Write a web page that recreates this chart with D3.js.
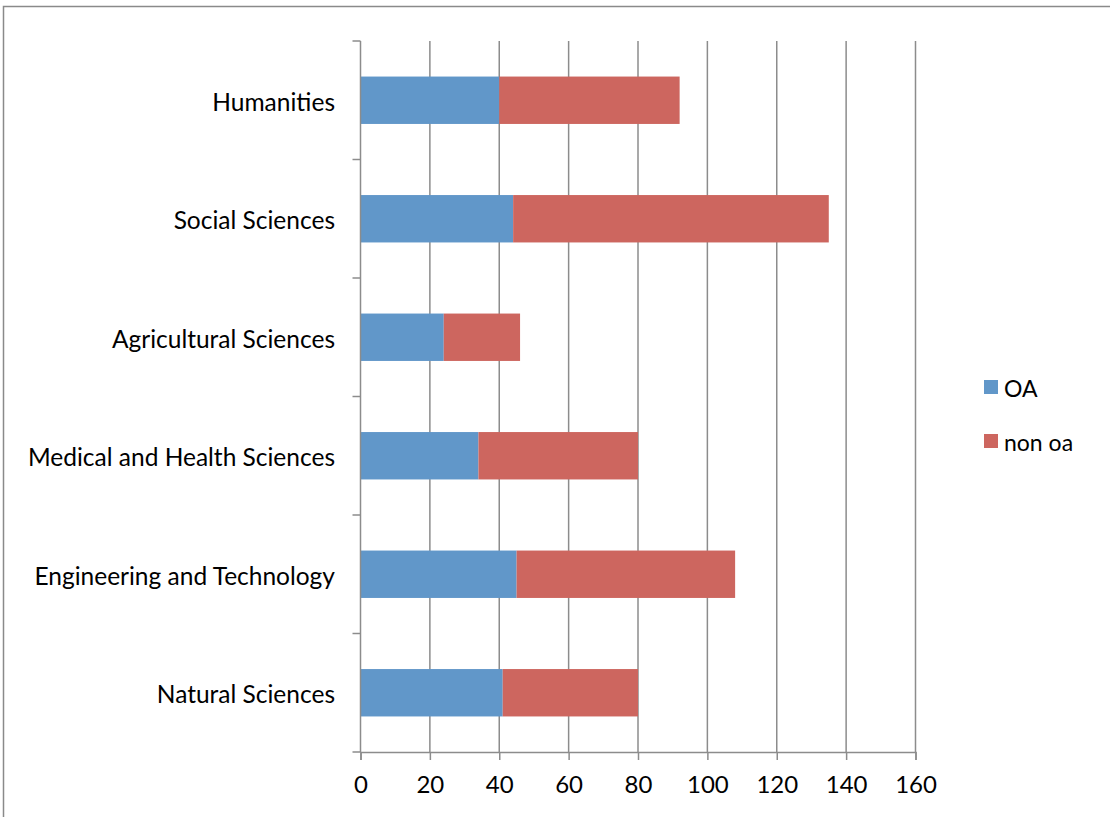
<!DOCTYPE html>
<html>
<head>
<meta charset="utf-8">
<script src="https://cdn.jsdelivr.net/npm/d3@7"></script>
<style>
  body { margin: 0; background: #fff; }
  svg text { font-family: Lato, "Open Sans", sans-serif; fill: #000; }
</style>
</head>
<body>
<svg id="chart"></svg>
<script>
// chart data
const categories = [
  "Humanities",
  "Social Sciences",
  "Agricultural Sciences",
  "Medical and Health Sciences",
  "Engineering and Technology",
  "Natural Sciences",
];
const oaValues = [40, 44, 24, 34, 45, 41];
const nonOaValues = [52, 91, 22, 46, 63, 39];
const seriesNames = ["OA", "non oa"];
const xTicks = [0, 20, 40, 60, 80, 100, 120, 140, 160];

// canvas variables
const width = 1110;
const height = 817;
const plotLeft = 360.5;
const plotRight = 915.5;
const plotTop = 41;
const plotBottom = 752;
const colors = ["#6197c9", "#cd665f"];
const gridColor = "#8c8c8c";

const svg = d3.select("#chart").attr("width", width).attr("height", height);

// outer frame
svg
  .append("rect")
  .attr("x", 3.5)
  .attr("y", 6.5)
  .attr("width", width)
  .attr("height", height)
  .attr("fill", "none")
  .attr("stroke", "#8a8a8a")
  .attr("stroke-width", 1.5);

// scales
const xScale = d3.scaleLinear().domain([0, 160]).range([plotLeft, plotRight]);
const yScale = d3
  .scaleBand()
  .domain(categories)
  .range([plotTop, plotBottom])
  .paddingInner(0.6)
  .paddingOuter(0.3);

// vertical gridlines
svg
  .append("g")
  .selectAll("line")
  .data(xTicks.slice(1))
  .enter()
  .append("line")
  .attr("x1", (d) => xScale(d))
  .attr("x2", (d) => xScale(d))
  .attr("y1", plotTop)
  .attr("y2", plotBottom)
  .attr("stroke", gridColor)
  .attr("stroke-width", 1.5);

// stacked bars
const stack = categories.map((c, i) => ({
  name: c,
  parts: [
    { s: 0, x0: 0, x1: oaValues[i] },
    { s: 1, x0: oaValues[i], x1: oaValues[i] + nonOaValues[i] },
  ],
}));

svg
  .append("g")
  .selectAll("g")
  .data(stack)
  .enter()
  .append("g")
  .selectAll("rect")
  .data((d) => d.parts.map((p) => ({ ...p, name: d.name })))
  .enter()
  .append("rect")
  .attr("x", (d) => xScale(d.x0))
  .attr("y", (d) => yScale(d.name))
  .attr("width", (d) => xScale(d.x1) - xScale(d.x0))
  .attr("height", yScale.bandwidth())
  .attr("fill", (d) => colors[d.s]);

// x-axis
const xAxis = svg
  .append("g")
  .attr("transform", `translate(0, ${plotBottom})`)
  .call(d3.axisBottom(xScale).tickValues(xTicks).tickSize(8).tickPadding(16));
xAxis.select(".domain").attr("stroke", gridColor).attr("stroke-width", 1.5);
xAxis.selectAll(".tick line").attr("stroke", gridColor).attr("stroke-width", 1.5);
xAxis.selectAll("text").style("font-size", "24px").attr("fill", "#000");

// y-axis line and ticks at band boundaries
const yEdges = d3.range(categories.length + 1).map(
  (i) => plotTop + ((plotBottom - plotTop) * i) / categories.length
);
svg
  .append("line")
  .attr("x1", plotLeft)
  .attr("x2", plotLeft)
  .attr("y1", plotTop)
  .attr("y2", plotBottom)
  .attr("stroke", gridColor)
  .attr("stroke-width", 1.5);
svg
  .append("g")
  .selectAll("line")
  .data(yEdges)
  .enter()
  .append("line")
  .attr("x1", plotLeft - 8)
  .attr("x2", plotLeft)
  .attr("y1", (d) => d)
  .attr("y2", (d) => d)
  .attr("stroke", gridColor)
  .attr("stroke-width", 1.5);

// category labels
svg
  .append("g")
  .selectAll("text")
  .data(categories)
  .enter()
  .append("text")
  .attr("x", 335)
  .attr("y", (d) => yScale(d) + yScale.bandwidth() / 2)
  .attr("dy", "0.42em")
  .style("text-anchor", "end")
  .style("font-size", "24.5px")
  .text((d) => d);

// legend
const legend = svg
  .append("g")
  .selectAll("g")
  .data(seriesNames)
  .enter()
  .append("g")
  .attr("transform", (d, i) => `translate(984, ${380 + i * 54})`);
legend
  .append("rect")
  .attr("width", 14)
  .attr("height", 14)
  .attr("fill", (d, i) => colors[i]);
legend
  .append("text")
  .attr("x", 20)
  .attr("y", 7)
  .attr("dy", "0.42em")
  .style("font-size", "23px")
  .text((d) => d);
</script>
</body>
</html>
